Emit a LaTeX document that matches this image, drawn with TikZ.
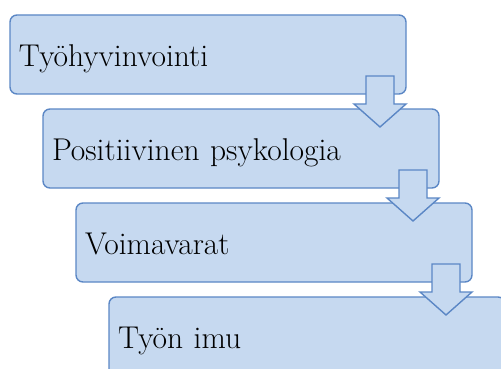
\documentclass[tikz,border=0pt]{standalone}
\usetikzlibrary{calc, positioning}
\definecolor{boxfill}{HTML}{C6D9F0}
\definecolor{boxline}{HTML}{5B87C5}

\begin{document}
\begin{tikzpicture}[x=1pt, y=1pt,
  stage/.style={fill=boxfill, draw=boxline, line width=1.4pt,
    rounded corners=7pt, outer sep=0pt,
    minimum width=396pt, minimum height=79pt,
    text width=378pt, align=left, inner xsep=9pt,
    text height=24pt, text depth=0pt,
    font=\fontsize{31.5}{36}\selectfont},
  downarrow/.style={fill=boxfill, draw=boxline, line width=1.4pt,
    line join=miter}]

% Frame
\useasboundingbox (0,0) rectangle (501,-369);
\clip (0,0) rectangle (501,-369);

% Stages
\node[stage, anchor=north west] (b1) at (10,-15) {Työhyvinvointi};
\node[stage, below=15pt of b1, xshift=33pt] (b2) {Positiivinen psykologia};
\node[stage, below=15pt of b2, xshift=33pt] (b3) {Voimavarat};
\node[stage, below=15pt of b3, xshift=33pt] (b4) {Työn imu};

% Block arrows between stages
\foreach \a/\b in {b1/b2, b2/b3, b3/b4}
  \draw[downarrow] ($(\a.south east)+(-40,18)$) -- ++(28,0) -- ++(0,-28)
    -- ++(12,0) -- ++(-26,-23) -- ++(-26,23) -- ++(12,0) -- cycle;

\end{tikzpicture}
\end{document}
